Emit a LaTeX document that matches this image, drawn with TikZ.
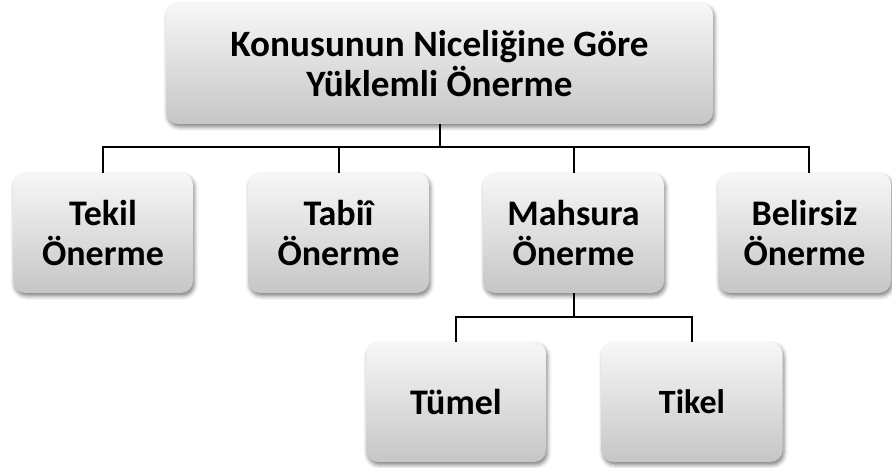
\documentclass[tikz,border=0pt]{standalone}
\usepackage{fontspec}
\setmainfont{Carlito}
\usetikzlibrary{shadows.blur,calc}
\definecolor{boxtop}{HTML}{F7F7F7}
\definecolor{boxbot}{HTML}{C6C6C6}
\tikzset{
  card/.style={rounded corners=12pt, top color=boxtop, bottom color=boxbot, draw=none,
    align=center, inner sep=0pt, font=\fontsize{36}{40}\selectfont\bfseries,
    blur shadow={shadow xshift=1.5pt, shadow yshift=-3pt, shadow blur radius=4pt, shadow opacity=50}},
  link/.style={line width=2pt, black}
}
\begin{document}
\begin{tikzpicture}[x=1pt,y=1pt]
\useasboundingbox (0,0) rectangle (892,468);
\node[card, minimum width=547pt, minimum height=121pt, font=\fontsize{37.2}{40}\selectfont\bfseries] (top) at (439.5,404.5) {Konusunun Niceliğine Göre\\Yüklemli Önerme};
\node[card, minimum width=180pt, minimum height=120pt] (tekil) at (103,235) {Tekil\\Önerme};
\node[card, minimum width=181pt, minimum height=120pt] (tabi) at (338.5,235) {Tabiî\\Önerme};
\node[card, minimum width=181pt, minimum height=120pt] (mah) at (573.5,235) {Mahsura\\Önerme};
\node[card, minimum width=173pt, minimum height=120pt] (bel) at (804.5,235) {Belirsiz\\Önerme};
\node[card, minimum width=180pt, minimum height=120pt] (tumel) at (456,66) {Tümel};
\node[card, minimum width=181pt, minimum height=120pt, font=\fontsize{34}{38}\selectfont\bfseries] (tikel) at (692,66) {Tikel};
\coordinate (bus) at (0,321);
\coordinate (sb) at (0,151);
\coordinate (belin) at ($(bel.north)+(4.5,0)$);
\draw[link] (top.south) -- (top.south |- bus);
\draw[link] (tekil.north) |- (belin |- bus) -- (belin);
\draw[link] (tabi.north) -- (tabi.north |- bus);
\draw[link] (mah.north) -- (mah.north |- bus);
\draw[link] (mah.south) -- (mah.south |- sb);
\draw[link] (tumel.north) |- (tikel.north |- sb) -- (tikel.north);
\end{tikzpicture}
\end{document}
